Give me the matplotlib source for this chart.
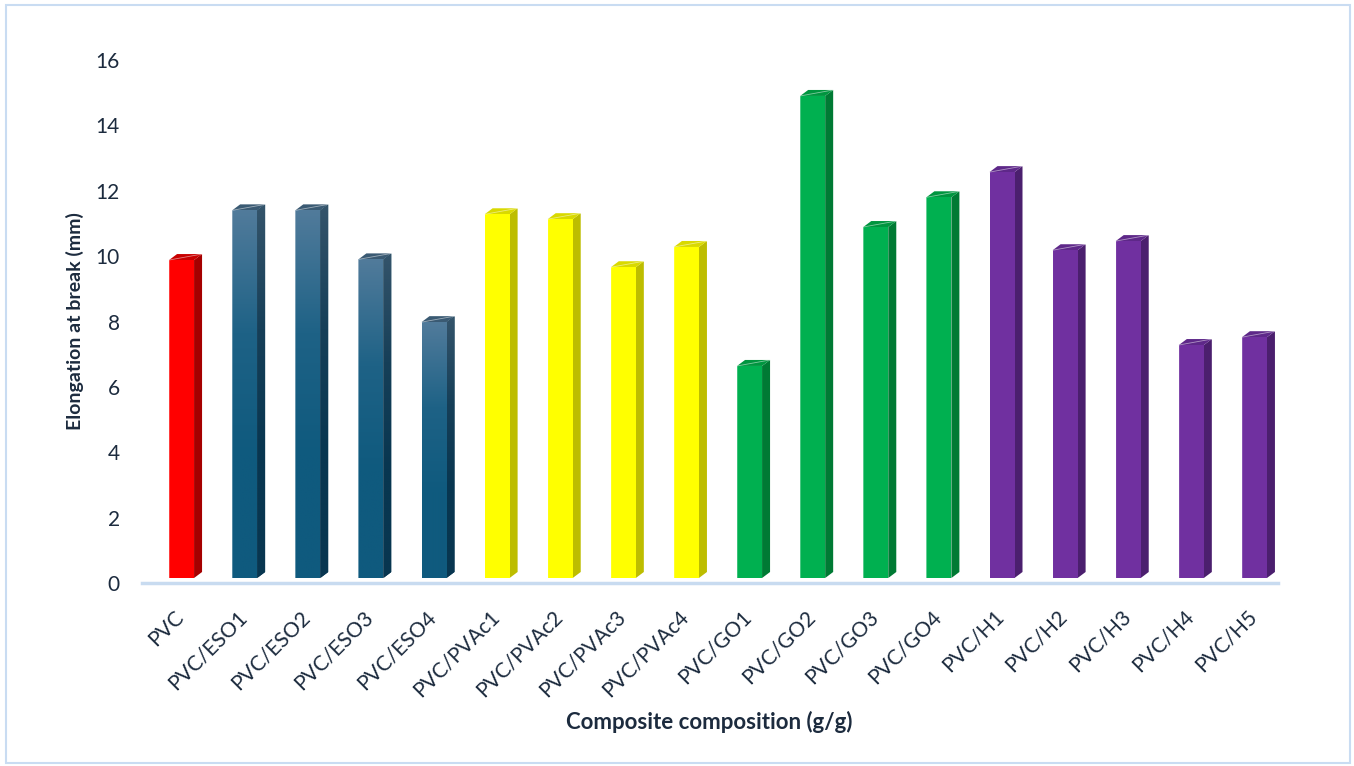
import matplotlib
matplotlib.use("Agg")
import matplotlib.pyplot as plt
import numpy as np
from matplotlib.patches import Rectangle, Polygon
from matplotlib.colors import LinearSegmentedColormap

categories = ["PVC", "PVC/ESO1", "PVC/ESO2", "PVC/ESO3", "PVC/ESO4",
              "PVC/PVAc1", "PVC/PVAc2", "PVC/PVAc3", "PVC/PVAc4",
              "PVC/GO1", "PVC/GO2", "PVC/GO3", "PVC/GO4",
              "PVC/H1", "PVC/H2", "PVC/H3", "PVC/H4", "PVC/H5"]
values = [9.88, 11.4, 11.4, 9.9, 7.98,
          11.28, 11.13, 9.66, 10.28,
          6.64, 14.9, 10.89, 11.8,
          12.57, 10.18, 10.46, 7.28, 7.52]
groups = ["pvc"] + ["eso"] * 4 + ["pvac"] * 4 + ["go"] * 4 + ["h"] * 5

# front, side, top colours per group
palette = {
    "pvc": ("#FF0000", "#A50000", "#C80000"),
    "eso": ("#0F5A7E", "#0A3B55", "#3A5A73"),
    "pvac": ("#FFFF00", "#BDBD00", "#D9D900"),
    "go": ("#00B050", "#007A34", "#00953F"),
    "h": ("#7030A0", "#4B1F6E", "#5E2889"),
}

W, H = 1354, 766
fig = plt.figure(figsize=(W / 100, H / 100), dpi=100)
ax_l, ax_r, ax_b, ax_t = 142, 1278, 583, 60
ax = fig.add_axes([ax_l / W, 1 - ax_b / H, (ax_r - ax_l) / W, (ax_b - ax_t) / H])
n = len(categories)
ax.set_xlim(-0.5, n - 0.5)
ax.set_ylim(0, 16)
for s in ax.spines.values():
    s.set_visible(False)

FONT = "Lato"
txt_col = "#1C2B3E"

px_x = (n) / (ax_r - ax_l)
px_y = 16 / (ax_b - ax_t)
off = 8 * px_x        # front face shift right of category centre
bw = 25 * px_x        # front face width
dx = 8 * px_x         # depth in x
dy = 6 * px_y         # depth in y
y0 = 5 * px_y         # front face bottom above floor line

cm_front = LinearSegmentedColormap.from_list("ef", ["#517B9B", "#1E6286", "#0F5A7E", "#0F5A7E"])
cm_side = LinearSegmentedColormap.from_list("es", ["#34546B", "#163F58", "#083650", "#083650"])

for i, (v, g) in enumerate(zip(values, groups)):
    fc, sc, tc = palette[g]
    xl = i + off - bw / 2
    xr = xl + bw
    side = Polygon([(xr, y0), (xr + dx, y0 + dy), (xr + dx, v + dy), (xr, v)],
                   closed=True, facecolor=sc, edgecolor="none", zorder=3)
    top = Polygon([(xl, v), (xl + dx, v + dy), (xr + dx, v + dy), (xr, v)],
                  closed=True, facecolor=tc, edgecolor="none", zorder=3)
    front = Rectangle((xl, y0), bw, v - y0, facecolor=fc, edgecolor="none", zorder=3)
    ax.add_patch(side)
    ax.add_patch(top)
    ax.add_patch(front)
    if g == "eso":
        grad = np.linspace(0, 1, 256).reshape(-1, 1)
        im = ax.imshow(grad, cmap=cm_front, aspect="auto", extent=(xl, xr, y0, v),
                       origin="upper", zorder=3.5, interpolation="bilinear")
        im.set_clip_path(front)
        im2 = ax.imshow(grad, cmap=cm_side, aspect="auto", extent=(xr, xr + dx, y0, v + dy),
                        origin="upper", zorder=3.5, interpolation="bilinear")
        im2.set_clip_path(side)
    # light edge highlight
    ax.plot([xl, xl, xr + dx], [y0, v, v + dy], color="white", lw=0.6, alpha=0.5, zorder=4)

ax.set_xlim(-0.5, n - 0.5)
ax.set_ylim(0, 16)

# floor line
ax.axhline(0, color="#C8DBF0", lw=2.5, zorder=2, clip_on=False)

ax.set_yticks(np.arange(0, 17, 2))
ax.set_yticklabels([str(t) for t in range(0, 17, 2)], fontsize=15, family=FONT, color=txt_col)
ax.tick_params(axis="y", length=0, pad=16)
ax.set_xticks(np.arange(n))
ax.set_xticklabels(categories, rotation=45, ha="right", va="top", rotation_mode="anchor",
                   fontsize=15, family=FONT, color=txt_col)
ax.tick_params(axis="x", length=0, pad=17)

ax.set_ylabel("Elongation at break (mm)", fontsize=14, family=FONT, fontweight="bold",
              color=txt_col, labelpad=8)
fig.text(709 / W, 1 - 722 / H, "Composite composition (g/g)", ha="center", va="center",
         fontsize=16, family=FONT, fontweight="bold", color=txt_col)

# outer border
fig.patches.append(Rectangle((6 / W, 3 / H), (1350 - 6) / W, (761 - 3) / H, transform=fig.transFigure,
                             fill=False, edgecolor="#C9DCF2", lw=1.5))

fig.savefig("out.png", dpi=100, facecolor="white")
